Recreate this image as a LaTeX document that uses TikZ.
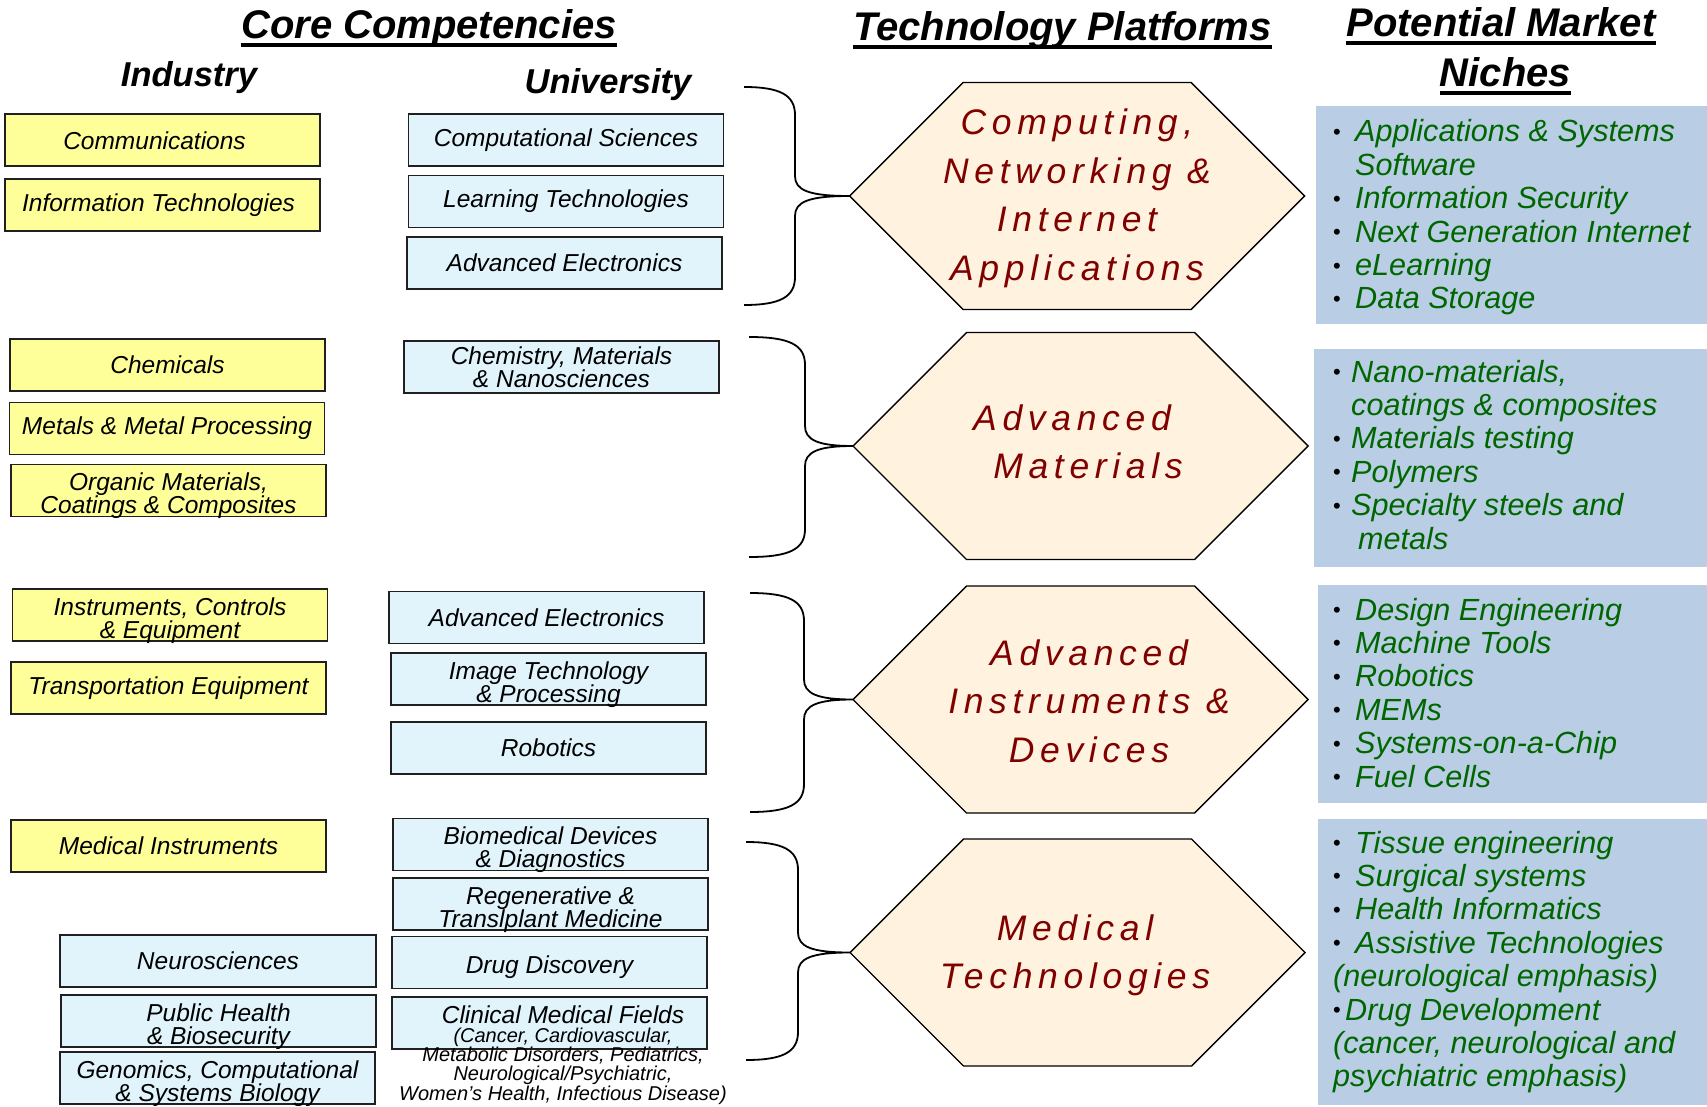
\documentclass[tikz,border=0pt]{standalone}
\usepackage{fontspec}
\setmainfont{Liberation Sans}
\newfontfamily\platfont{Liberation Sans}[LetterSpace=16]

\definecolor{indfill}{HTML}{FFFF99}
\definecolor{unifill}{HTML}{E1F4FC}
\definecolor{boxline}{HTML}{202020}
\definecolor{hexfill}{HTML}{FFF3DF}
\definecolor{hexred}{HTML}{800000}
\definecolor{nichefill}{HTML}{B9CDE5}
\definecolor{nichegreen}{HTML}{006600}

\tikzset{
  title/.style={anchor=base, inner sep=0pt, font=\bfseries\itshape\fontsize{40}{44}\selectfont},
  subtitle/.style={anchor=base, inner sep=0pt, font=\bfseries\itshape\fontsize{34.5}{38}\selectfont},
  uline/.style={line width=3.4pt},
  compbox/.style={draw=boxline, line width=1.8pt, minimum width=315pt, minimum height=52pt,
    inner sep=0pt, align=center, font=\itshape\fontsize{24.5}{23}\selectfont},
  indbox/.style={compbox, fill=indfill},
  unibox/.style={compbox, fill=unifill},
  lowtext/.style={inner ysep=-6pt},
  hexshape/.style={draw=black, line width=1.4pt, fill=hexfill},
  hextext/.style={anchor=base, inner sep=0pt, text=hexred, font=\platfont\itshape\fontsize{35.5}{48.5}\selectfont},
  nichebox/.style={fill=nichefill, draw=none, inner sep=0pt},
  nichetext/.style={anchor=base west, inner sep=0pt, text=nichegreen, font=\itshape\fontsize{30.6}{33.4}\selectfont},
  bracepath/.style={draw=black, line width=1.8pt},
}

% two-line box label, set a little low in its box (use with lowtext)
\newcommand\twoline[2]{\rule{0pt}{29pt}#1\\#2}
% bullet used in the market niche lists
\newcommand\bul[1][22pt]{\makebox[#1][l]{\textcolor{black}{\raisebox{2.5pt}{\fontsize{22}{22}\selectfont\upshape •}}}}
\newcommand\ind[1][22pt]{\hspace*{#1}}

% flat-topped hexagon centred at (#2,#3); its left corner is named #1
\newcommand\platform[3]{%
  \draw[hexshape] (#2-227.5,#3) -- (#2-114,#3-113.5) -- (#2+114,#3-113.5) -- (#2+227.5,#3)
    -- (#2+114,#3+113.5) -- (#2-114,#3+113.5) -- cycle;
  \coordinate (#1) at (#2-227.5,#3);}

% curly brace: #1 top end, #2 bottom end, #3 tip, #4 spine x, #5 top y, #6 tip y, #7 bottom y
\newcommand\curly[7]{%
  \draw[bracepath] (#1) .. controls (#4-15,#5) and (#4,#5+8) .. (#4,#5+28)
    -- (#4,#6-20) .. controls (#4,#6-6) and (#4+13,#6) .. (#3)
    .. controls (#4+13,#6) and (#4,#6+6) .. (#4,#6+20)
    -- (#4,#7-28) .. controls (#4,#7-8) and (#4-15,#7) .. (#2);}

\begin{document}
\begin{tikzpicture}[x=1pt,y=-1pt]
\fill[white] (0,0) rectangle (1707,1107);
\useasboundingbox (0,0) rectangle (1707,1107);

% ---- headings ----
\node[title] (tcore) at (429,39) {Core Competencies};
\node[title] (ttech) at (1062.5,41) {Technology Platforms};
\node[title] (tpot) at (1501,37) {Potential Market};
\node[title] (tnic) at (1505.5,87) {Niches};
\foreach \t in {tcore,ttech,tpot,tnic}
  \draw[uline] ([yshift=-6pt]\t.base west) -- ([yshift=-6pt]\t.base east);
\node[subtitle] (tind) at (189,87) {Industry};
\node[subtitle] (tuni) at (608,94) {University};

% ---- industry competencies ----
\node[indbox, text height=20pt, text depth=0pt] (comm) at (162.5,140) {\hspace*{-16pt}Communications};
\node[indbox] (info) at (162.5,205) {\hspace*{-8pt}Information Technologies};
\node[indbox] (chem) at (167.5,365) {Chemicals};
\node[indbox] (metal) at (167,428.5) {Metals \& Metal Processing};
\node[indbox, lowtext] (organ) at (168.5,490.5) {\twoline{Organic Materials,}{Coatings \& Composites}};
\node[indbox, lowtext] (instr) at (170,615) {\twoline{Instruments, Controls}{\& Equipment}};
\node[indbox] (trans) at (168.5,688) {Transportation Equipment};
\node[indbox] (medin) at (168.5,846) {Medical Instruments};

% ---- university competencies ----
\node[unibox] (comp) at (566,140) {Computational Sciences};
\node[unibox] (learn) at (566,201.5) {Learning Technologies};
\node[unibox] (elec1) at (564.5,263) {Advanced Electronics};
\node[unibox] (nano) at (561.5,367) {Chemistry, Materials\\\& Nanosciences};
\node[unibox] (elec2) at (546.5,617.5) {Advanced Electronics};
\node[unibox, lowtext] (image) at (548.5,679) {\twoline{Image Technology}{\& Processing}};
\node[unibox] (robot) at (548.5,748) {Robotics};
\node[unibox, lowtext] (biomed) at (550.5,844.5) {\twoline{Biomedical Devices}{\& Diagnostics}};
\node[unibox, lowtext] (regen) at (550.5,904) {\twoline{Regenerative \&}{Translplant Medicine}};
\node[unibox, text height=21pt, text depth=0pt] (drug) at (549.5,962.5) {Drug Discovery};
\node[unibox] (clin) at (549.5,1023) {};
\node[anchor=base, inner sep=0pt, font=\itshape] (clintext) at (563,1023)
  {\parbox[t]{380pt}{\centering\fontsize{24.5}{20}\selectfont Clinical Medical Fields\\
   \fontsize{20}{19.3}\selectfont(Cancer, Cardiovascular,\\Metabolic Disorders, Pediatrics,\\
   Neurological/Psychiatric,\\Women’s Health, Infectious Disease)}};
\node[unibox, minimum width=316pt] (neuro) at (218,961) {Neurosciences};
\node[unibox, lowtext] (pubh) at (218.5,1021) {\twoline{Public Health}{\& Biosecurity}};
\node[unibox, lowtext] (genom) at (217.5,1078) {\twoline{Genomics, Computational}{\& Systems Biology}};

% ---- technology platforms ----
\platform{h1}{1077}{196}
\platform{h2}{1080.5}{446}
\platform{h3}{1080.5}{699.5}
\platform{h4}{1077.5}{952.5}
\node[hextext] (p1) at (1077,135) {\parbox[t]{330pt}{\centering Computing,\\Networking \&\\Internet\\Applications}};
\node[hextext] (p2) at (1072,430) {\parbox[t]{330pt}{\centering Advanced\\\hspace*{32pt}Materials}};
\node[hextext] (p3) at (1089,665) {\parbox[t]{330pt}{\centering Advanced\\Instruments \&\\Devices}};
\node[hextext] (p4) at (1075,940) {\parbox[t]{330pt}{\centering Medical\\Technologies}};

% ---- braces gathering competencies into platforms ----
\coordinate (b1t) at (744,87);  \coordinate (b1b) at (744,305);
\coordinate (b2t) at (749,337); \coordinate (b2b) at (749,557);
\coordinate (b3t) at (750,593); \coordinate (b3b) at (750,812);
\coordinate (b4t) at (746,842); \coordinate (b4b) at (746,1060);
\curly{b1t}{b1b}{h1}{795}{87}{196}{305}
\curly{b2t}{b2b}{h2}{805}{337}{446}{557}
\curly{b3t}{b3b}{h3}{804}{593}{699.5}{812}
\curly{b4t}{b4b}{h4}{798}{842}{952.5}{1060}

% ---- market niches ----
\node[nichebox, minimum width=391pt, minimum height=218pt] (n1) at (1511.5,215) {};
\node[nichebox, minimum width=393pt, minimum height=218pt] (n2) at (1510.5,458) {};
\node[nichebox, minimum width=389pt, minimum height=218pt] (n3) at (1512.5,694) {};
\node[nichebox, minimum width=389pt, minimum height=286pt] (n4) at (1512.5,962) {};

\node[nichetext] (m1) at (1333,142) {\parbox[t]{370pt}{\raggedright
  \bul Applications \& Systems\\\ind Software\\\bul Information Security\\
  \bul Next Generation Internet\\\bul eLearning\\\bul Data Storage}};
\node[nichetext] (m2) at (1333,382) {\parbox[t]{370pt}{\raggedright
  \bul[18pt]Nano-materials,\\\ind[18pt]coatings \& composites\\\bul[18pt]Materials testing\\
  \bul[18pt]Polymers\\\bul[18pt]Specialty steels and\\\ind[25pt]metals}};
\node[nichetext] (m3) at (1333,620) {\parbox[t]{370pt}{\raggedright
  \bul Design Engineering\\\bul Machine Tools\\\bul Robotics\\\bul MEMs\\
  \bul Systems-on-a-Chip\\\bul Fuel Cells}};
\node[nichetext] (m4) at (1333,853) {\parbox[t]{370pt}{\raggedright
  \bul Tissue engineering\\\bul Surgical systems\\\bul Health Informatics\\
  \bul Assistive Technologies\\(neurological emphasis)\\\bul[12pt]Drug Development\\
  (cancer, neurological and\\psychiatric emphasis)}};
\end{tikzpicture}
\end{document}
